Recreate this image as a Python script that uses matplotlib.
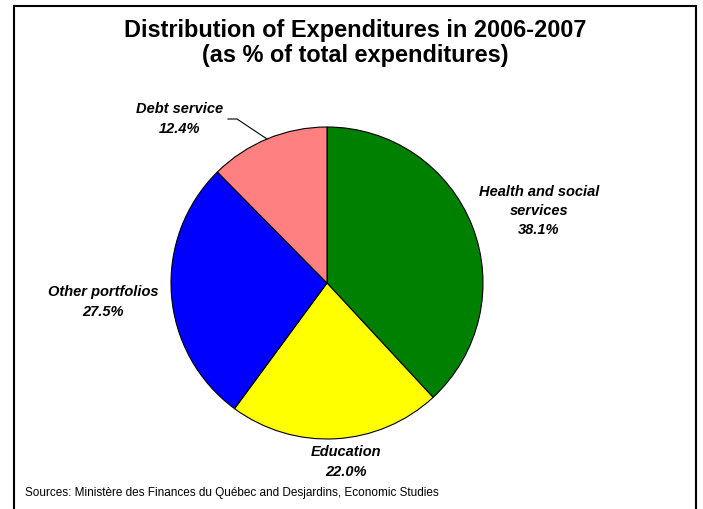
import matplotlib.pyplot as plt
from matplotlib.patches import Rectangle

plt.rcParams['font.family'] = ['Liberation Sans', 'DejaVu Sans']

# data
categories = ['Health and social\nservices', 'Education', 'Other portfolios', 'Debt service']
shares = [38.1, 22.0, 27.5, 12.4]
colors = ['#008000', '#FFFF00', '#0000FF', '#FF8080']

W, H = 703, 510
fig = plt.figure(figsize=(W / 100, H / 100), dpi=100)
ax = fig.add_axes([0, 0, 1, 1])

ax.pie(shares, colors=colors, startangle=90, counterclock=False,
       center=(327, H - 284), radius=156,
       wedgeprops=dict(edgecolor='black', linewidth=0.8))

# pie resets the limits, so set them afterwards
ax.set_xlim(0, W)
ax.set_ylim(0, H)
ax.set_aspect('equal')
ax.axis('off')

# outer frame (bottom edge runs off the image)
fig.patches.append(Rectangle((14 / W, -0.05), (696 - 14) / W, (H - 7) / H + 0.05,
                             transform=fig.transFigure, fill=False,
                             edgecolor='black', linewidth=1.5))

fig.text(0.505, (H - 43) / H, 'Distribution of Expenditures in 2006-2007\n(as % of total expenditures)',
         ha='center', va='center', fontsize=16.9, fontweight='bold', linespacing=1.1)

lbl = dict(ha='center', va='center', fontsize=10.5, fontweight='bold', style='italic', linespacing=1.48)
pos = [(539, 211), (346, 462), (103, 302), (180, 119)]
for name, val, (x, y) in zip(categories, shares, pos):
    ax.text(x, H - y, f'{name}\n{val:.1f}%', **lbl)

# leader line for debt service
ax.plot([228, 237, 267], [H - 120, H - 120, H - 140], color='black', linewidth=0.8)

fig.text(25 / W, (H - 493) / H,
         'Sources: Ministère des Finances du Québec and Desjardins, Economic Studies',
         ha='left', va='center', fontsize=8.5)

fig.savefig('out.png', dpi=100)
